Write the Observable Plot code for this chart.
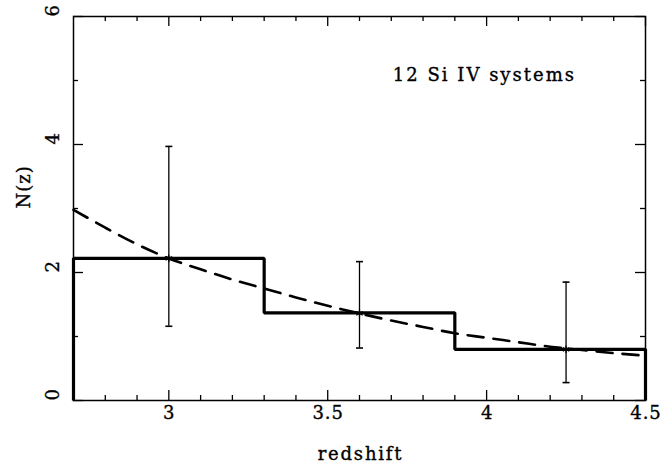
<!DOCTYPE html>
<html>
<head>
<meta charset="utf-8">
<script src="https://cdn.jsdelivr.net/npm/d3@7"></script>
<script src="https://cdn.jsdelivr.net/npm/@observablehq/plot@0.6"></script>
<style>
  html, body { margin: 0; padding: 0; background: #fff; }
  #chart svg { display: block; }
</style>
</head>
<body>
<div id="chart"></div>
<script>
// Histogram bins (redshift edges) and heights N(z)
const binEdges = [2.7, 3.3, 3.9, 4.5];
const binHeights = [2.22, 1.37, 0.80];

// Data points with error bars
const pointZ = [3.0, 3.6, 4.25];
const pointN = [2.22, 1.36, 0.80];
const pointLo = [1.16, 0.82, 0.28];
const pointHi = [3.97, 2.17, 1.85];

// Dashed model curve
const curveZ = [2.7, 2.8, 2.9, 3.0, 3.1, 3.2, 3.3, 3.4, 3.5, 3.6, 3.7, 3.8, 3.9, 4.0, 4.1, 4.2, 4.3, 4.4, 4.5];
const curveN = [2.98, 2.70, 2.44, 2.22, 2.05, 1.89, 1.75, 1.61, 1.48, 1.36, 1.25, 1.15, 1.05, 0.98, 0.91, 0.84, 0.79, 0.74, 0.70];

// Axis ticks
const xMajor = [3, 3.5, 4, 4.5];
const xMinor = [2.8, 2.9, 3.1, 3.2, 3.3, 3.4, 3.6, 3.7, 3.8, 3.9, 4.1, 4.2, 4.3, 4.4];
const yMajor = [0, 2, 4, 6];
const yMinor = [1, 3, 5];
const xLabel = "redshift";
const yLabel = "N(z)";
const note = "12 Si IV systems";

const W = 664, H = 468;
const mL = 73, mR = 19, mT = 16, mB = 68;
const pw = W - mL - mR, ph = H - mT - mB;
const font = "'DejaVu Serif', serif";

// histogram outline
const histPath = [{z: binEdges[0], n: 0}];
binHeights.forEach((h, i) => {
  histPath.push({z: binEdges[i], n: h});
  histPath.push({z: binEdges[i + 1], n: h});
});
histPath.push({z: binEdges[binEdges.length - 1], n: 0});

const points = pointZ.map((z, i) => ({z, n: pointN[i], lo: pointLo[i], hi: pointHi[i]}));
const curve = curveZ.map((z, i) => ({z, n: curveN[i]}));

const capSymbol = {
  draw(ctx, size) {
    const r = Math.sqrt(size / Math.PI);
    ctx.moveTo(-r, 0);
    ctx.lineTo(r, 0);
  }
};

const maj = 10, mnr = 5;
const txt = {fill: "#000", stroke: "#000", strokeWidth: 0.35, fontSize: 18};

const plot = Plot.plot({
  width: W, height: H,
  marginLeft: mL, marginRight: mR, marginTop: mT, marginBottom: mB,
  style: {fontFamily: font, background: "#fff", overflow: "visible"},
  x: {domain: [2.7, 4.5], axis: null},
  y: {domain: [0, 6], axis: null},
  marks: [
    // inward ticks
    Plot.tickX(xMajor, {x: d => d, insetTop: ph - maj, stroke: "#000", strokeWidth: 1.3}),
    Plot.tickX(xMajor, {x: d => d, insetBottom: ph - maj, stroke: "#000", strokeWidth: 1.3}),
    Plot.tickX(xMinor, {x: d => d, insetTop: ph - mnr, stroke: "#000", strokeWidth: 1.3}),
    Plot.tickX(xMinor, {x: d => d, insetBottom: ph - mnr, stroke: "#000", strokeWidth: 1.3}),
    Plot.tickY(yMajor, {y: d => d, insetRight: pw - maj, stroke: "#000", strokeWidth: 1.3}),
    Plot.tickY(yMajor, {y: d => d, insetLeft: pw - maj, stroke: "#000", strokeWidth: 1.3}),
    Plot.tickY(yMinor, {y: d => d, insetRight: pw - mnr, stroke: "#000", strokeWidth: 1.3}),
    Plot.tickY(yMinor, {y: d => d, insetLeft: pw - mnr, stroke: "#000", strokeWidth: 1.3}),
    Plot.frame({stroke: "#000", strokeWidth: 1.5}),
    // tick labels
    Plot.text(xMajor, {x: d => d, frameAnchor: "bottom", dy: 18, dx: 0.5, text: d => String(d), ...txt}),
    Plot.text(yMajor, {y: d => d, frameAnchor: "left", dx: -20, rotate: -90, text: d => String(d), ...txt}),
    // axis labels
    Plot.text([xLabel], {frameAnchor: "bottom", dy: 59, dx: 1, text: d => d, ...txt}),
    Plot.text([yLabel], {frameAnchor: "left", dx: -49, rotate: -90, text: d => d, ...txt}),
    // dashed model
    Plot.line(curve, {x: "z", y: "n", curve: "monotone-x", stroke: "#000", strokeWidth: 2.6, strokeDasharray: "16,10"}),
    // histogram
    Plot.line(histPath, {x: "z", y: "n", stroke: "#000", strokeWidth: 3.2, strokeLinejoin: "miter", strokeLinecap: "butt"}),
    // error bars
    Plot.ruleX(points, {x: "z", y1: "lo", y2: "hi", stroke: "#000", strokeWidth: 1.3}),
    Plot.dot(points, {x: "z", y: "lo", symbol: capSymbol, r: 3.5, stroke: "#000", strokeWidth: 1.6, fill: "none"}),
    Plot.dot(points, {x: "z", y: "hi", symbol: capSymbol, r: 3.5, stroke: "#000", strokeWidth: 1.6, fill: "none"}),
    Plot.dot(points, {x: "z", y: "n", symbol: "asterisk", r: 3.5, stroke: "#000", strokeWidth: 1.2}),
    // annotation
    Plot.text([note], {x: 3.705, y: 5.08, textAnchor: "start", text: d => d, ...txt})
  ]
});
// widen letter spacing to match the original's broad lettering
const spacing = new Map([[note, 2], [xLabel, 1.8], [yLabel, 1]]);
xMajor.forEach(v => spacing.set(String(v), 1));
d3.select(plot).selectAll("text").each(function () {
  const s = spacing.get(this.textContent);
  if (s != null) this.setAttribute("letter-spacing", s);
});
document.getElementById("chart").appendChild(plot);
</script>
</body>
</html>
